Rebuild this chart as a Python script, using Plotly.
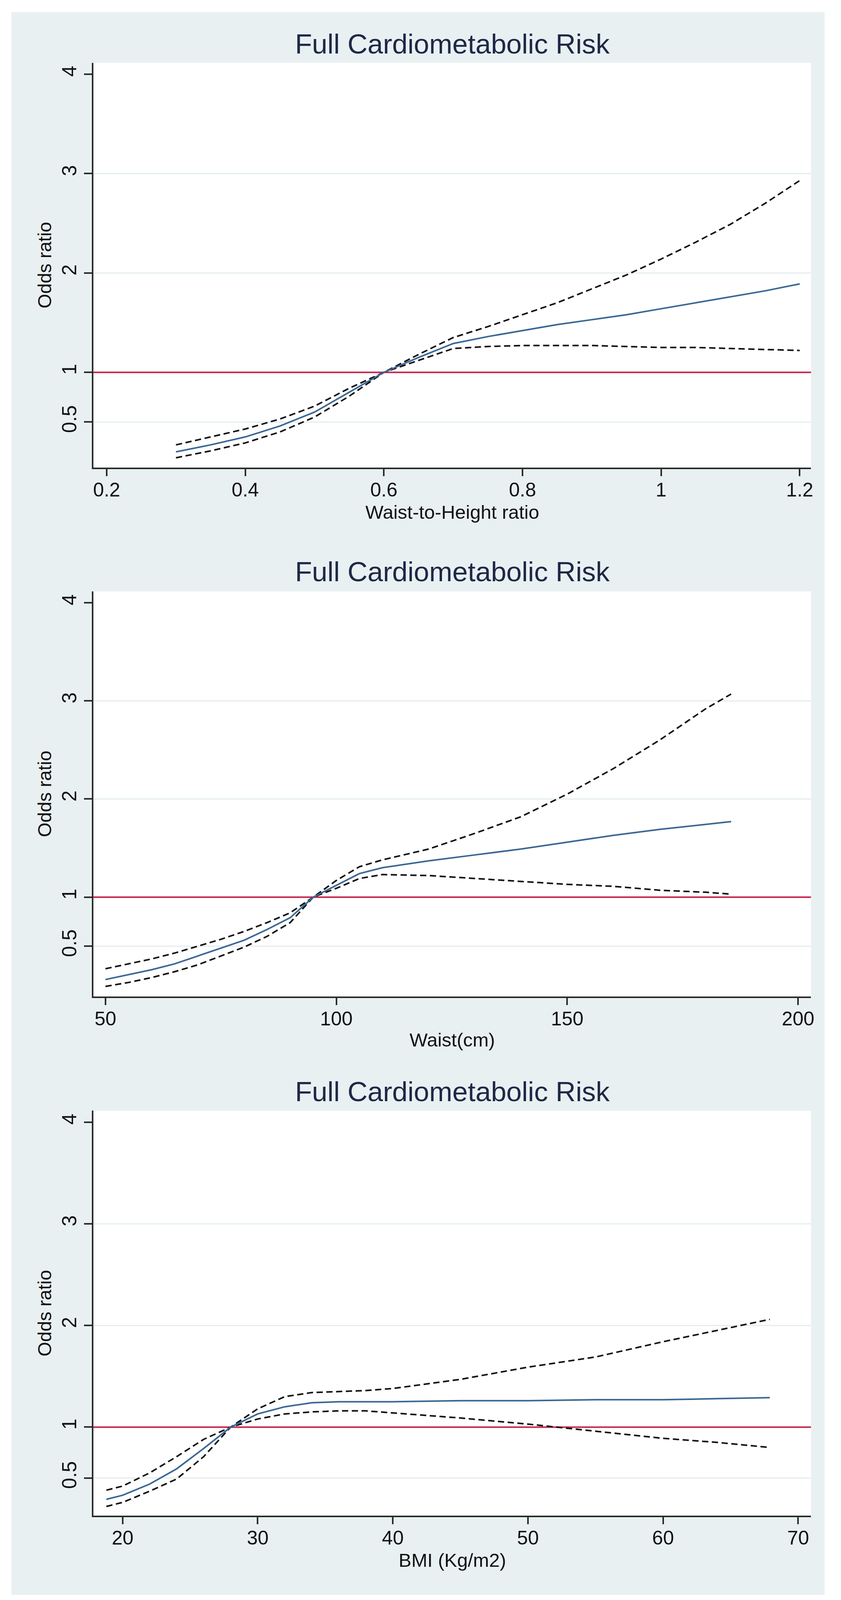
import plotly.graph_objects as go

# ---------------- data ----------------
title_text = "Full Cardiometabolic Risk"
y_title = "Odds ratio"
y_tickvals = [0.5, 1, 2, 3, 4]
y_ticktext = ["0.5", "1", "2", "3", "4"]
grid_vals = [0.5, 2, 3]

# Panel 1: Waist-to-Height ratio
whr_label = "Waist-to-Height ratio"
whr_ticks = [0.2, 0.4, 0.6, 0.8, 1.0, 1.2]
whr_ticktext = ["0.2", "0.4", "0.6", "0.8", "1", "1.2"]
whr_x = [0.30, 0.35, 0.40, 0.45, 0.50, 0.55, 0.60, 0.65, 0.70, 0.75, 0.80, 0.85, 0.90, 0.95, 1.00, 1.05, 1.10, 1.15, 1.20]
whr_or = [0.20, 0.27, 0.35, 0.46, 0.60, 0.80, 1.00, 1.15, 1.29, 1.36, 1.42, 1.48, 1.53, 1.58, 1.64, 1.70, 1.76, 1.82, 1.89]
whr_hi = [0.27, 0.35, 0.43, 0.53, 0.66, 0.84, 1.00, 1.18, 1.35, 1.46, 1.58, 1.70, 1.84, 1.98, 2.14, 2.31, 2.49, 2.70, 2.93]
whr_lo = [0.14, 0.21, 0.29, 0.40, 0.55, 0.76, 1.00, 1.12, 1.24, 1.26, 1.27, 1.27, 1.27, 1.26, 1.25, 1.25, 1.24, 1.23, 1.22]

# Panel 2: Waist (cm)
waist_label = "Waist(cm)"
waist_ticks = [50, 100, 150, 200]
waist_ticktext = ["50", "100", "150", "200"]
waist_x = [50, 55, 60, 65, 70, 75, 80, 85, 90, 95, 100, 105, 110, 120, 130, 140, 150, 160, 170, 180, 185.5]
waist_or = [0.16, 0.21, 0.26, 0.32, 0.40, 0.48, 0.56, 0.67, 0.79, 1.00, 1.12, 1.24, 1.30, 1.37, 1.43, 1.49, 1.56, 1.63, 1.69, 1.74, 1.77]
waist_hi = [0.27, 0.32, 0.37, 0.43, 0.50, 0.57, 0.65, 0.74, 0.84, 1.00, 1.17, 1.31, 1.38, 1.49, 1.65, 1.82, 2.05, 2.31, 2.60, 2.92, 3.07]
waist_lo = [0.09, 0.13, 0.18, 0.24, 0.31, 0.40, 0.49, 0.60, 0.74, 1.00, 1.09, 1.19, 1.23, 1.22, 1.19, 1.16, 1.13, 1.11, 1.07, 1.05, 1.03]

# Panel 3: BMI
bmi_label = "BMI (Kg/m2)"
bmi_ticks = [20, 30, 40, 50, 60, 70]
bmi_ticktext = ["20", "30", "40", "50", "60", "70"]
bmi_x = [18.8, 20, 22, 24, 26, 28, 30, 32, 34, 36, 38, 40, 45, 50, 55, 60, 64, 67.9]
bmi_or = [0.29, 0.33, 0.44, 0.59, 0.79, 1.00, 1.13, 1.20, 1.24, 1.25, 1.25, 1.25, 1.26, 1.26, 1.27, 1.27, 1.28, 1.29]
bmi_hi = [0.38, 0.42, 0.55, 0.71, 0.88, 1.00, 1.18, 1.30, 1.34, 1.35, 1.36, 1.38, 1.47, 1.59, 1.69, 1.84, 1.95, 2.06]
bmi_lo = [0.22, 0.26, 0.37, 0.49, 0.71, 1.00, 1.08, 1.13, 1.15, 1.16, 1.16, 1.14, 1.09, 1.03, 0.96, 0.89, 0.85, 0.80]

reference_or = 1

# ---------------- layout geometry ----------------
# The page viewport is 2152 x 4096 with an 8px body margin; the reference
# layout (2152 x 4637) is mapped proportionally onto it.
OFF = 8
VIEW_W, VIEW_H = 2152, 4096
REF_H = 4637
S = VIEW_H / REF_H
W, H = VIEW_W - 2 * OFF, VIEW_H - 2 * OFF


def px(X):
    return (X - OFF) / W


def py(Y):
    return 1 - (Y * S - OFF) / H


PLOT_L, PLOT_R = 239, 2083
panels = [
    dict(top=182, bot=1355, title_y=127, xt_y=1484, xr=[0.1809, 1.2163], yr=[0.042, 4.115],
         x=whr_x, mid=whr_or, hi=whr_hi, lo=whr_lo, ticks=whr_ticks, ticktext=whr_ticktext, label=whr_label),
    dict(top=1714, bot=2888, title_y=1657, xt_y=3014, xr=[47.39, 202.8], yr=[-0.013, 4.116],
         x=waist_x, mid=waist_or, hi=waist_hi, lo=waist_lo, ticks=waist_ticks, ticktext=waist_ticktext, label=waist_label),
    dict(top=3219, bot=4393, title_y=3164, xt_y=4521, xr=[17.84, 70.95], yr=[0.128, 4.112],
         x=bmi_x, mid=bmi_or, hi=bmi_hi, lo=bmi_lo, ticks=bmi_ticks, ticktext=bmi_ticktext, label=bmi_label),
]

FONT = "Liberation Sans, Arial, sans-serif"
BG = "#e9f0f2"
AXIS_COL = "#2b2b2b"
BLUE = "#3a6894"
RED = "#c8264f"

fig = go.Figure()
annotations = []
shapes = []

for i, p in enumerate(panels):
    n = "" if i == 0 else str(i + 1)
    xa, ya = "x" + n, "y" + n
    for ys in (p["hi"], p["lo"]):
        fig.add_trace(go.Scatter(x=p["x"], y=ys, xaxis=xa, yaxis=ya, mode="lines",
                                 line=dict(color="#111111", width=4, dash="16px,9px"),
                                 hoverinfo="skip", showlegend=False))
    fig.add_trace(go.Scatter(x=p["x"], y=p["mid"], xaxis=xa, yaxis=ya, mode="lines",
                             line=dict(color=BLUE, width=4), showlegend=False))

    fig.update_layout(**{
        "xaxis" + n: dict(domain=[px(PLOT_L), px(PLOT_R)], anchor=ya, range=p["xr"],
                          tickvals=p["ticks"], ticktext=p["ticktext"], showgrid=False, zeroline=False,
                          showline=True, linecolor=AXIS_COL, linewidth=4,
                          ticks="outside", ticklen=18, tickwidth=4, tickcolor=AXIS_COL,
                          ticklabelstandoff=-8,
                          tickfont=dict(family=FONT, size=50, color="#111111")),
        "yaxis" + n: dict(domain=[py(p["bot"]), py(p["top"])], anchor=xa, range=p["yr"],
                          tickvals=y_tickvals, ticktext=y_ticktext, showgrid=False, zeroline=False,
                          showline=True, linecolor=AXIS_COL, linewidth=4,
                          ticks="outside", ticklen=20, tickwidth=4, tickcolor=AXIS_COL,
                          tickangle=-90,
                          tickfont=dict(family=FONT, size=51, color="#111111")),
    })

    for g in grid_vals:
        shapes.append(dict(type="line", xref=xa + " domain", yref=ya, x0=0, x1=1, y0=g, y1=g,
                           line=dict(color="#e4edf0", width=3), layer="below"))
    shapes.append(dict(type="line", xref=xa + " domain", yref=ya, x0=0, x1=1,
                       y0=reference_or, y1=reference_or, line=dict(color=RED, width=4), layer="below"))

    cx = px((PLOT_L + PLOT_R) / 2)
    annotations.append(dict(text=title_text, x=cx, y=py(p["title_y"]), xref="paper", yref="paper",
                            showarrow=False, xanchor="center", yanchor="middle",
                            font=dict(family=FONT, size=71, color="#1e2846")))
    annotations.append(dict(text=p["label"], x=cx, y=py(p["xt_y"]), xref="paper", yref="paper",
                            showarrow=False, xanchor="center", yanchor="middle",
                            font=dict(family=FONT, size=49, color="#111111")))
    annotations.append(dict(text=y_title, x=px(114), y=py((p["top"] + p["bot"]) / 2),
                            xref="paper", yref="paper", textangle=-90,
                            showarrow=False, xanchor="center", yanchor="middle",
                            font=dict(family=FONT, size=48, color="#111111")))

# white page margins around the light bluish-gray graph region
for (x0, y0, x1, y1) in [(0, 0, 28, REF_H), (2118, 0, VIEW_W, REF_H), (0, 0, VIEW_W, 35), (0, 4622, VIEW_W, REF_H)]:
    shapes.append(dict(type="rect", xref="paper", yref="paper", x0=px(x0), x1=px(x1),
                       y0=py(y1), y1=py(y0), line=dict(width=0), fillcolor="white", layer="below"))

fig.update_layout(width=W, height=H, margin=dict(l=0, r=0, t=0, b=0, pad=0),
                  paper_bgcolor=BG, plot_bgcolor="white", showlegend=False,
                  annotations=annotations, shapes=shapes,
                  font=dict(family=FONT))

fig.write_html("out.html")
